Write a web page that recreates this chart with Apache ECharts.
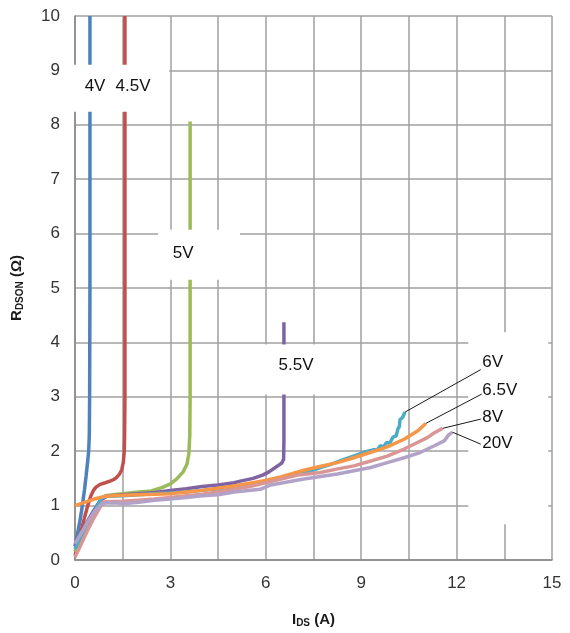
<!DOCTYPE html>
<html><head><meta charset="utf-8">
<script src="https://cdn.jsdelivr.net/npm/echarts@6/dist/echarts.min.js"></script>
<style>html,body{margin:0;padding:0;background:#fff}#c{width:570px;height:633px}</style>
</head><body><div id="c"></div>
<script>
const seriesNames = ['4V','4.5V','5V','5.5V','6V','6.5V','8V','20V'];
const v4 = [[0,0.25],[0.05,0.4],[0.1,0.55],[0.15,0.7],[0.2,0.88],[0.25,1.08],[0.3,1.3],[0.35,1.55],[0.4,1.82],[0.43,2.0],[0.45,2.3],[0.46,3],[0.47,5],[0.47,10]];
const v45 = [[0,0.08],[0.1,0.3],[0.2,0.55],[0.3,0.78],[0.4,1.0],[0.5,1.18],[0.58,1.28],[0.66,1.34],[0.79,1.39],[0.95,1.42],[1.1,1.45],[1.22,1.48],[1.31,1.52],[1.4,1.58],[1.47,1.66],[1.52,1.8],[1.55,2.0],[1.56,2.3],[1.57,3],[1.57,10]];
const v5 = [[0,0.15],[0.2,0.4],[0.4,0.65],[0.6,0.9],[0.8,1.1],[0.95,1.18],[1.2,1.2],[1.5,1.22],[2.0,1.25],[2.4,1.27],[2.77,1.34],[3.0,1.4],[3.2,1.49],[3.4,1.62],[3.52,1.76],[3.58,1.95],[3.61,2.3],[3.62,3],[3.62,5],[3.62,8.06]];
const v55 = [[0,0.25],[0.2,0.5],[0.4,0.72],[0.6,0.92],[0.8,1.1],[1.0,1.17],[1.5,1.2],[2.0,1.22],[2.5,1.24],[3.0,1.28],[3.5,1.31],[4.0,1.35],[4.5,1.38],[5.0,1.42],[5.2,1.45],[5.6,1.5],[5.9,1.56],[6.1,1.62],[6.3,1.7],[6.5,1.78],[6.56,1.85],[6.57,2.2],[6.57,3],[6.57,4.37]];
const v6 = [[0,0.2],[0.2,0.45],[0.4,0.68],[0.6,0.88],[0.85,1.15],[1.0,1.17],[1.5,1.18],[2.0,1.2],[2.5,1.22],[3.0,1.23],[3.5,1.25],[4.0,1.28],[4.5,1.31],[5.0,1.35],[5.5,1.4],[6.0,1.45],[6.5,1.51],[7.0,1.58],[7.5,1.65],[7.72,1.7],[8.0,1.75],[8.46,1.85],[8.8,1.92],[9.09,1.98],[9.4,2.03],[9.5,2.02],[9.6,2.1],[9.7,2.08],[9.8,2.16],[9.9,2.15],[10.0,2.26],[10.1,2.28],[10.15,2.4],[10.2,2.45],[10.22,2.58],[10.3,2.62],[10.38,2.72]];
const v65 = [[0,1.0],[0.3,1.06],[0.6,1.12],[0.94,1.17],[1.5,1.19],[2.0,1.2],[2.5,1.21],[3.0,1.22],[3.5,1.25],[4.0,1.28],[4.5,1.32],[5.0,1.36],[5.5,1.41],[6.0,1.46],[6.5,1.53],[7.2,1.65],[7.7,1.72],[8.25,1.79],[8.77,1.88],[9.3,1.98],[9.82,2.08],[10.35,2.22],[10.77,2.37],[11.03,2.51]];
const v8 = [[0,0.05],[0.2,0.3],[0.4,0.55],[0.6,0.78],[0.8,0.98],[0.88,1.06],[1.0,1.07],[1.5,1.08],[2.0,1.1],[2.5,1.12],[3.0,1.15],[3.5,1.18],[4.0,1.21],[4.5,1.25],[5.0,1.3],[5.5,1.35],[6.15,1.44],[7.0,1.56],[7.72,1.61],[8.3,1.68],[8.77,1.73],[9.3,1.82],[9.82,1.91],[10.35,2.04],[10.77,2.16],[11.08,2.25],[11.3,2.34],[11.56,2.42]];
const v20 = [[0,0.3],[0.2,0.5],[0.4,0.7],[0.6,0.88],[0.83,1.03],[1.0,1.05],[1.3,1.05],[1.6,1.04],[2.0,1.06],[2.5,1.1],[3.0,1.12],[3.5,1.15],[4.0,1.18],[4.5,1.2],[5.0,1.25],[5.83,1.3],[6.15,1.38],[7.2,1.49],[8.25,1.58],[9.3,1.7],[9.82,1.79],[10.35,1.88],[10.87,1.98],[11.3,2.1],[11.61,2.19],[11.75,2.3],[11.87,2.35]];
const seriesData = [v4, v45, v5, v55, v6, v65, v8, v20];

const inlineLabels = ['4V','4.5V','5V','5.5V'];
const inlineLabelAt = [[0.63,8.70],[1.825,8.70],[3.40,5.63],[6.95,3.58]];
const calloutLabels = ['6V','6.5V','8V','20V'];
const calloutSeries = [4,5,6,7];
const calloutAt = [[12.81,3.63],[12.81,3.12],[12.81,2.62],[12.81,2.15]];
const calloutElbow = [[12.76,3.50],[12.79,3.05],[12.76,2.59],[12.76,2.13]];
const maskAt = [[0.566,8.67],[2.08,8.67],[3.90,5.61],[6.83,3.50],[13.625,2.42]];

const colors = ['#4F81BD','#C0504D','#9BBB59','#8064A2','#4BACC6','#F79646','#DA9694','#B3A2C7'];
const maskSize = [[40,47],[56,47],[82,50],[95,50],[80,192]];
const FONT = 'Liberation Sans';
const gridStyle = {color:'#a0a0a0', width:1.5};

const series = seriesData.map((d,i)=>({
  name: seriesNames[i], type:'line', data:d, showSymbol:false, symbol:'none',
  lineStyle:{color:colors[i], width:3.5}, itemStyle:{color:colors[i]}, z:2, silent:true
}));

series.push({
  type:'scatter', z:10, silent:true, symbolSize:1, itemStyle:{color:'rgba(0,0,0,0)', opacity:1},
  data: maskAt.map((p,i)=>({value:p, label:{show:true, position:'inside', formatter:' ',
    width:maskSize[i][0], height:maskSize[i][1], backgroundColor:'#ffffff', padding:0}}))
});

calloutSeries.forEach((si,k)=>{
  const d = seriesData[si];
  series.push({type:'line', z:11, silent:true, symbol:'none', showSymbol:false,
    data:[d[d.length-1], calloutElbow[k]], lineStyle:{color:'#1a1a1a', width:1}});
});

series.push({
  type:'scatter', z:12, silent:true, symbolSize:1, itemStyle:{color:'rgba(0,0,0,0)', opacity:1},
  data: inlineLabels.map((t,i)=>({value:inlineLabelAt[i], name:t}))
    .concat(calloutLabels.map((t,i)=>({value:calloutAt[i], name:t, label:{align:'left'}}))),
  label:{show:true, position:'inside', formatter:p=>p.name, color:'#111', fontFamily:FONT, fontSize:17, align:'center', verticalAlign:'middle'}
});

const chart = echarts.init(document.getElementById('c'), null, {renderer:'canvas'});
chart.setOption({
  animation:false,
  backgroundColor:'#ffffff',
  grid:{left:75, right:18, top:16, bottom:72, containLabel:false},
  xAxis:{type:'value', min:0, max:15, interval:3,
    axisLine:{show:true, lineStyle:{color:'#868686', width:1.5}},
    axisTick:{show:false},
    axisLabel:{color:'#333', fontFamily:FONT, fontSize:17, margin:15},
    splitLine:{show:true, lineStyle:gridStyle},
    minorTick:{show:false, splitNumber:2},
    minorSplitLine:{show:true, lineStyle:gridStyle},
    name:'{b|I}{s|DS}{b| (A)}', nameLocation:'middle', nameGap:52,
    nameTextStyle:{rich:{b:{fontFamily:FONT, fontWeight:'bold', fontSize:15, color:'#1a1a1a'}, s:{fontFamily:FONT, fontWeight:'bold', fontSize:10, color:'#1a1a1a', verticalAlign:'bottom', padding:[6,0,0,0]}}}
  },
  yAxis:{type:'value', min:0, max:10, interval:1,
    axisLine:{show:true, lineStyle:{color:'#868686', width:1.5}},
    axisTick:{show:false},
    axisLabel:{color:'#333', fontFamily:FONT, fontSize:17, margin:15},
    splitLine:{show:true, lineStyle:gridStyle},
    name:'{b|R}{s|DSON}{b| (Ω)}', nameLocation:'middle', nameGap:50, nameRotate:90,
    nameTextStyle:{rich:{b:{fontFamily:FONT, fontWeight:'bold', fontSize:15, color:'#1a1a1a'}, s:{fontFamily:FONT, fontWeight:'bold', fontSize:10, color:'#1a1a1a', verticalAlign:'bottom', padding:[6,0,0,0]}}}
  },
  series: series
});
</script></body></html>
